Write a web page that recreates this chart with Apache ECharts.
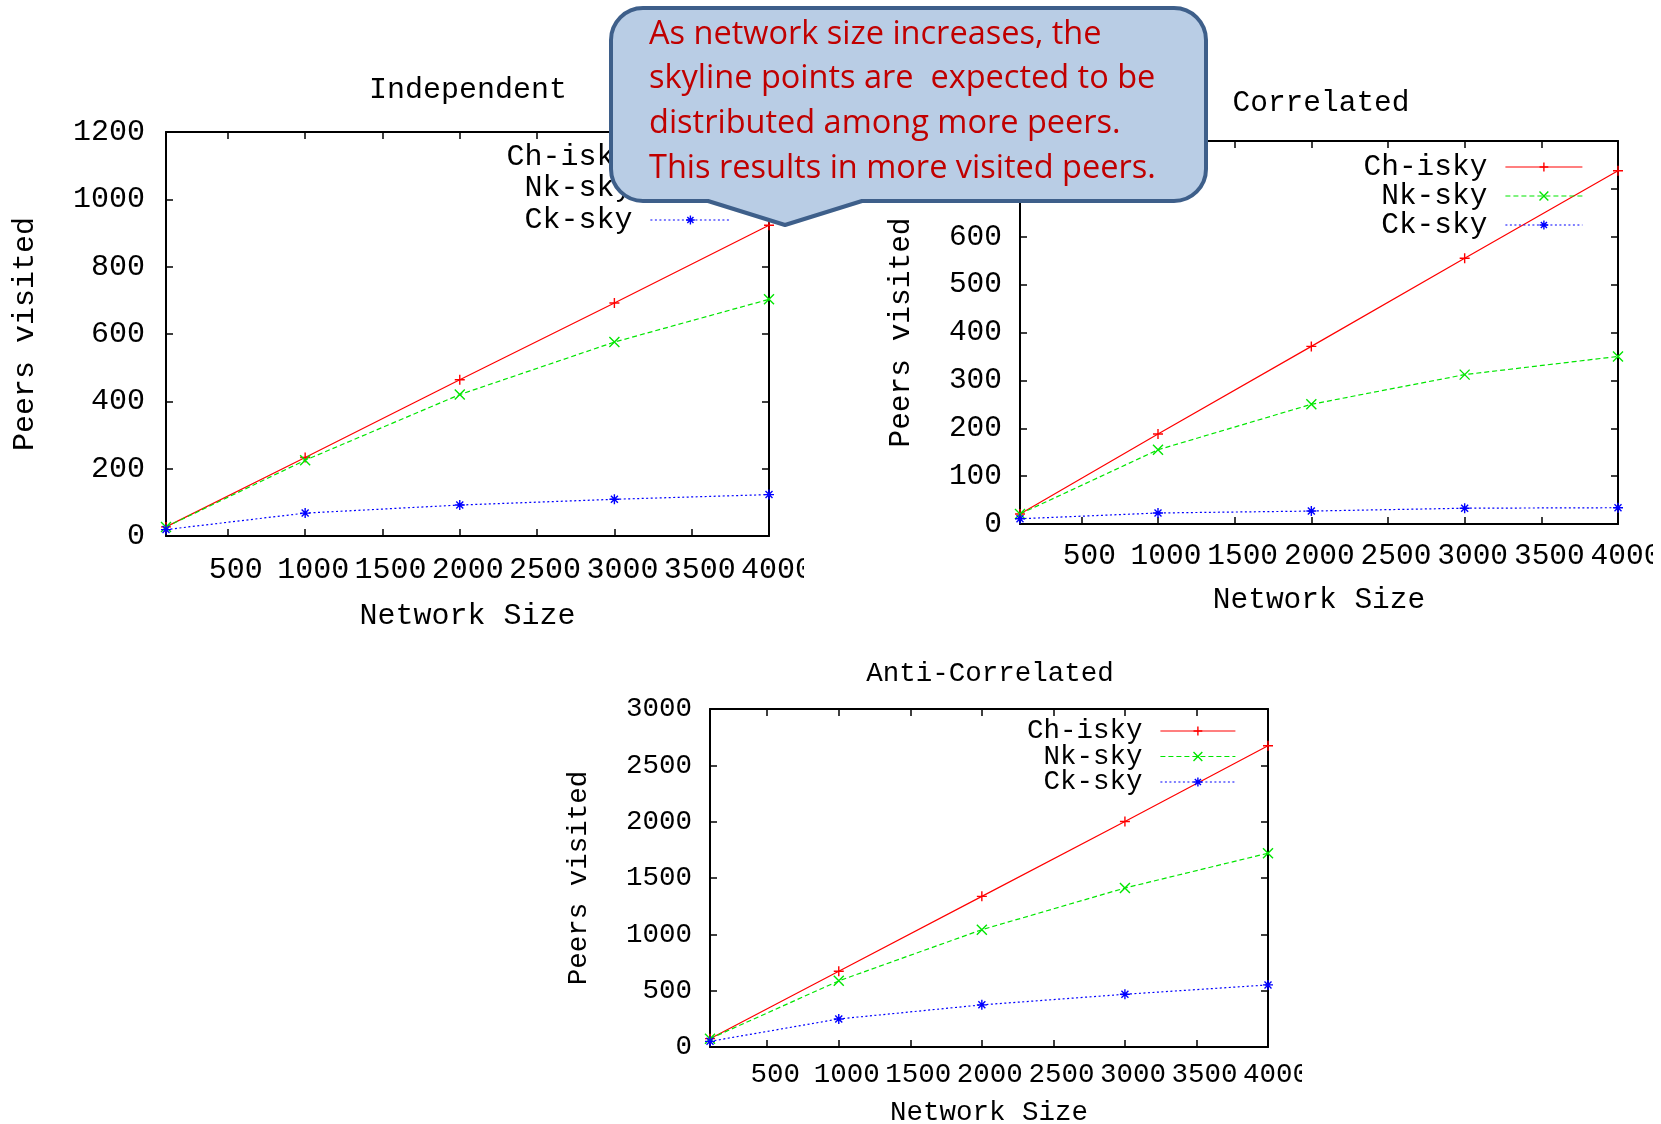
<!DOCTYPE html>
<html>
<head>
<meta charset="utf-8">
<style>
html,body{margin:0;padding:0;background:#fff;}
#chart{width:1661px;height:1124px;}
</style>
<script src="https://cdn.jsdelivr.net/npm/echarts@6/dist/echarts.min.js"></script>
</head>
<body>
<div id="chart"></div>
<script>
// ---------------- data ----------------
const networkSizes = [100, 1000, 2000, 3000, 4000];
const xTickLabels = [500, 1000, 1500, 2000, 2500, 3000, 3500, 4000];
const seriesNames = ['Ch-isky', 'Nk-sky', 'Ck-sky'];

const chartTitles = ['Independent', 'Correlated', 'Anti-Correlated'];
const xAxisTitle = 'Network Size';
const yAxisTitle = 'Peers visited';

const independentCh = [27, 233, 464, 692, 923];
const independentNk = [27, 225, 420, 576, 703];
const independentCk = [19, 68, 92, 109, 123];

const correlatedCh = [21, 188, 371, 555, 738];
const correlatedNk = [21, 155, 250, 312, 350];
const correlatedCk = [11, 23, 27, 33, 34];

const antiCh = [74, 673, 1337, 2001, 2674];
const antiNk = [74, 587, 1041, 1411, 1720];
const antiCk = [50, 249, 374, 468, 551];

const yMax = [1200, 800, 3000];
const yStep = [200, 100, 500];

const calloutText = [
  'As network size increases, the',
  'skyline points are  expected to be',
  'distributed among more peers.',
  'This results in more visited peers.'
];

// ---------------- styling / layout ----------------
const MONO = '"Liberation Mono", "DejaVu Sans Mono", monospace';
const colors = ['#ff0000', '#00e600', '#0000ff'];
const lineTypes = ['solid', [5, 3], [2, 2.5]];
const symbols = [
  'path://M0,5L10,5M5,0L5,10',
  'path://M0,0L10,10M10,0L0,10',
  'path://M0,5L10,5M5,0L5,10M1.5,1.5L8.5,8.5M8.5,1.5L1.5,8.5'
];

const panels = [
  { grid: {left: 166, top: 132, width: 603, height: 404}, font: 30,
    yGap: 126, xGap: 65, xLabMargin: 19, yLabMargin: 21,
    title: {x: 468, y: 90},
    legend: {right: 930, top: 142, itemWidth: 80, gap: 1.5} },
  { grid: {left: 1020, top: 141, width: 598, height: 383}, font: 29.5,
    yGap: 104, xGap: 61, xLabMargin: 17, yLabMargin: 18,
    title: {x: 1321, y: 103},
    legend: {right: 78, top: 152, itemWidth: 77, gap: -1} },
  { grid: {left: 710, top: 709, width: 558, height: 338}, font: 27.5,
    yGap: 117, xGap: 52, xLabMargin: 14, yLabMargin: 18,
    title: {x: 990, y: 674},
    legend: {right: 425, top: 717, itemWidth: 75, gap: -2.5} }
];

const dataSets = [
  [independentCh, independentNk, independentCk],
  [correlatedCh, correlatedNk, correlatedCk],
  [antiCh, antiNk, antiCk]
];

const plain = v => String(v);
const grids = [], xAxes = [], yAxes = [], series = [], legends = [], titles = [];

panels.forEach((p, i) => {
  grids.push(Object.assign({containLabel: false, outerBoundsMode: 'none'}, p.grid));
  const axisLine = {show: true, onZero: false, lineStyle: {color: '#000', width: 2}};
  const tick = {show: true, inside: true, length: 7, lineStyle: {color: '#000', width: 1.5}};
  xAxes.push({
    type: 'value', gridIndex: i, position: 'bottom', min: 100, max: 4000,
    axisLine: axisLine,
    axisTick: Object.assign({customValues: xTickLabels}, tick),
    axisLabel: {customValues: xTickLabels, formatter: plain, showMaxLabel: true, showMinLabel: true,
      hideOverlap: false, margin: p.xLabMargin, color: '#000',
      fontFamily: MONO, fontSize: p.font, padding: [0, 0, 0, 16]},
    splitLine: {show: false},
    name: xAxisTitle, nameLocation: 'middle', nameGap: p.xGap,
    nameTextStyle: {color: '#000', fontFamily: MONO, fontSize: p.font, verticalAlign: 'top'}
  });
  xAxes.push({
    type: 'value', gridIndex: i, position: 'top', min: 100, max: 4000,
    axisLine: axisLine,
    axisTick: Object.assign({customValues: xTickLabels}, tick),
    axisLabel: {show: false}, splitLine: {show: false}
  });
  yAxes.push({
    type: 'value', gridIndex: i, position: 'left', min: 0, max: yMax[i], interval: yStep[i],
    axisLine: axisLine, axisTick: tick,
    axisLabel: {formatter: plain, margin: p.yLabMargin, color: '#000', fontFamily: MONO,
      fontSize: p.font, padding: [5, 0, 0, 0]},
    splitLine: {show: false},
    name: yAxisTitle, nameLocation: 'middle', nameGap: p.yGap, nameRotate: 90,
    nameTextStyle: {color: '#000', fontFamily: MONO, fontSize: p.font}
  });
  yAxes.push({
    type: 'value', gridIndex: i, position: 'right', min: 0, max: yMax[i], interval: yStep[i],
    axisLine: axisLine, axisTick: tick,
    axisLabel: {show: false}, splitLine: {show: false}
  });

  dataSets[i].forEach((vals, k) => {
    series.push({
      type: 'line', name: seriesNames[k],
      xAxisIndex: i * 2, yAxisIndex: i * 2,
      data: networkSizes.map((n, j) => [n, vals[j]]),
      symbol: symbols[k], symbolSize: 10,
      lineStyle: {color: colors[k], width: 1.2, type: lineTypes[k]},
      itemStyle: {color: colors[k], borderColor: colors[k], borderWidth: 1.4},
      emphasis: {disabled: true},
      animation: false
    });
  });

  legends.push({
    orient: 'vertical', align: 'right', right: p.legend.right, top: p.legend.top,
    padding: 0, itemGap: p.legend.gap, itemWidth: p.legend.itemWidth, itemHeight: 11,
    selectedMode: false,
    data: seriesNames,
    textStyle: {color: '#000', fontFamily: MONO, fontSize: p.font, padding: [0, 13, 0, 0]},
    itemStyle: {borderWidth: 1.4},
    lineStyle: {width: 1.2}
  });

  titles.push({
    text: chartTitles[i], left: p.title.x, top: p.title.y, textAlign: 'center',
    textVerticalAlign: 'middle', padding: 0,
    textStyle: {color: '#000', fontFamily: MONO, fontSize: p.font, fontWeight: 'normal'}
  });
});

const calloutFill = '#b9cde5';
const calloutStroke = '#3e5f8a';

const option = {
  backgroundColor: '#fff',
  animation: false,
  title: titles,
  grid: grids,
  xAxis: xAxes,
  yAxis: yAxes,
  legend: legends,
  series: series,
  graphic: [
    // clip truncated tick labels like in the original picture
    {type: 'rect', z: 100, shape: {x: 804, y: 548, width: 50, height: 45}, style: {fill: '#fff'}},
    {type: 'rect', z: 100, shape: {x: 1302, y: 1056, width: 50, height: 40}, style: {fill: '#fff'}},
    {type: 'rect', z: 100, shape: {x: 1653, y: 536, width: 20, height: 45}, style: {fill: '#fff'}},
    // callout box
    {type: 'rect', z: 200, shape: {x: 611, y: 8, width: 595, height: 193, r: 32},
      style: {fill: calloutFill, stroke: calloutStroke, lineWidth: 4}},
    {type: 'polygon', z: 201, shape: {points: [[709, 197], [861, 197], [861, 201], [785, 225], [709, 201]]},
      style: {fill: calloutFill}},
    {type: 'polyline', z: 202, shape: {points: [[708, 201], [785, 225], [862, 201]]},
      style: {stroke: calloutStroke, lineWidth: 4, fill: null, lineJoin: 'round'}},
    {type: 'text', z: 203, x: 649, y: 12,
      style: {text: calloutText.join('\n'), fill: '#c00000', font: '32.5px "Open Sans", Lato, sans-serif',
        lineHeight: 44.7, verticalAlign: 'top', align: 'left'}}
  ]
};

const chart = echarts.init(document.getElementById('chart'), null, {renderer: 'canvas'});
chart.setOption(option);
</script>
</body>
</html>
